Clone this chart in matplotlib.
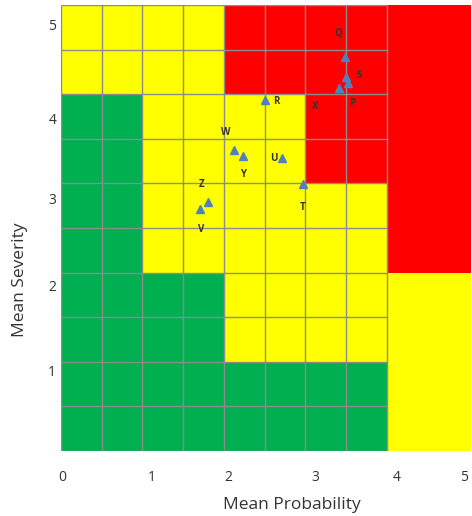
import numpy as np
import matplotlib.pyplot as plt
from matplotlib.colors import ListedColormap

# risk zones, top row first: G = green, Y = yellow, R = red
# 8 narrow columns plus one wide column on the right
zone_rows = [
    "YYYYRRRRR",
    "YYYYRRRRR",
    "GGYYYYRRR",
    "GGYYYYRRR",
    "GGYYYYYYR",
    "GGYYYYYYR",
    "GGGGYYYYY",
    "GGGGYYYYY",
    "GGGGGGGGY",
    "GGGGGGGGY",
]
col_edges = [0, 0.5, 1.0, 1.5, 2.0, 2.5, 3.0, 3.5, 4.0, 5.036]
row_edges = [0, 0.5, 1.0, 1.5, 2.0, 2.5, 3.0, 3.5, 4.0, 4.5, 5.0]

# risks (probability, severity)
risk_names = ["Q", "S", "P", "X", "R", "W", "Y", "U", "T", "Z", "V"]
risk_prob = [3.49, 3.50, 3.53, 3.42, 2.50, 2.12, 2.23, 2.72, 2.97, 1.80, 1.71]
risk_sev = [4.42, 4.19, 4.12, 4.07, 3.93, 3.38, 3.31, 3.29, 2.99, 2.79, 2.71]
# label offsets in pixels
label_dx = [-7, 13, 4, -24, 12, -8, 1, -9, 0, -6, 1]
label_dy = [24, 2, -20, -19, -1, 17, -19, -1, -23, 18, -20]

x_tick_pos = [0.02, 1.11, 2.05, 3.12, 4.12, 4.95]
x_tick_lab = ["0", "1", "2", "3", "4", "5"]
y_tick_pos = [0.90, 1.85, 2.83, 3.73, 4.78]
y_tick_lab = ["1", "2", "3", "4", "5"]

plt.rcParams['font.family'] = ['Open Sans', 'DejaVu Sans']

fig = plt.figure(figsize=(4.72, 5.16), dpi=100)
ax = fig.add_axes([61 / 472, 65 / 516, 410 / 472, 446 / 516])

codes = {"G": 0, "Y": 1, "R": 2}
grid = np.array([[codes[c] for c in row] for row in zone_rows[::-1]])
cmap = ListedColormap(["#00B050", "#FFFF00", "#FF0000"])
ax.pcolormesh(col_edges, row_edges, grid, cmap=cmap, vmin=0, vmax=2)

# grid lines only over the narrow columns
ax.hlines(row_edges, 0, 4.0, color="#8c8c8c", lw=1)
ax.vlines(col_edges[:-1], 0, 5.0, color="#8c8c8c", lw=1)

ax.plot(risk_prob, risk_sev, "^", color="#4F81BD", ms=5.5, ls="none")
for name, x, y, dx, dy in zip(risk_names, risk_prob, risk_sev, label_dx, label_dy):
    ax.annotate(name, (x, y), xytext=(dx, dy), textcoords="offset pixels",
                ha="center", va="center", fontsize=7, fontweight="bold",
                color="#333333")

ax.set_xlim(0, 5.036)
ax.set_ylim(0, 5)
for s in ax.spines.values():
    s.set_visible(False)

ax.set_xticks(x_tick_pos)
ax.set_xticklabels(x_tick_lab)
ax.set_yticks(y_tick_pos)
ax.set_yticklabels(y_tick_lab)
ax.tick_params(axis="x", length=0, pad=14, labelsize=10, labelcolor="#333333")
ax.tick_params(axis="y", length=0, pad=3.5, labelsize=10, labelcolor="#333333")

fig.text(292 / 472, 1 - 505 / 516, "Mean Probability", ha="center", va="center",
         fontsize=12.5, color="#333333")
fig.text(20 / 472, 1 - 280 / 516, "Mean Severity", ha="center", va="center",
         rotation=90, fontsize=12.5, color="#333333")

fig.savefig("out.png", dpi=100)
